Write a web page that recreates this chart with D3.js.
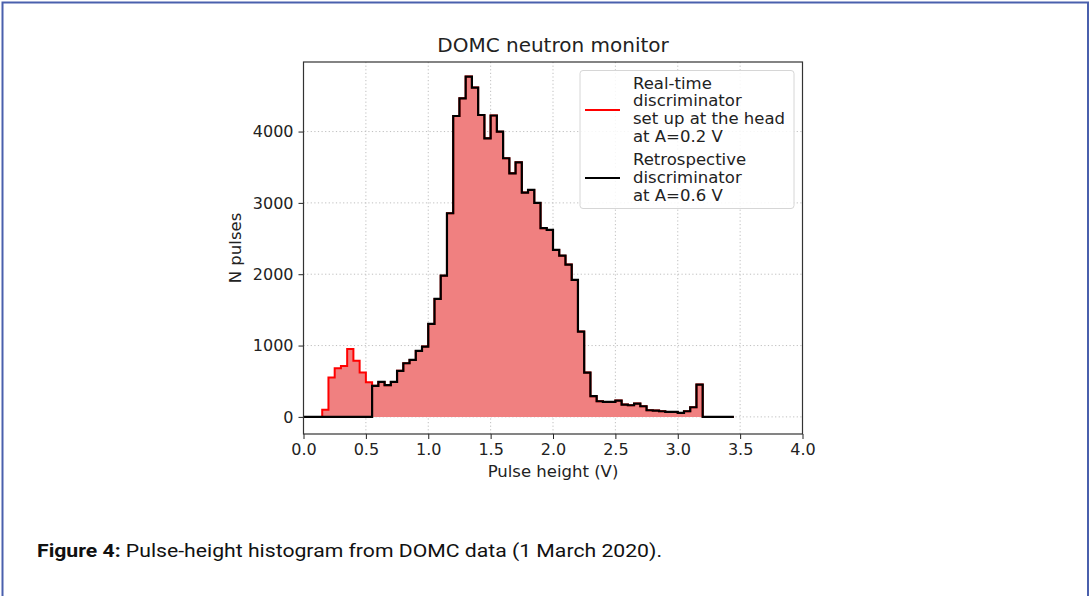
<!DOCTYPE html>
<html><head><meta charset="utf-8">
<script src="https://cdn.jsdelivr.net/npm/d3@7"></script>
<style>body{margin:0;background:#fff}svg{display:block}</style>
</head><body>
<svg id="c" width="1090" height="596"></svg>
<script>
// ---- data ----
const binWidth = 0.05; // V, bins start at 0.0
const realtimeCounts = [0,0,0,100,551,682,715,950,786,621,486,
  435,490,444,490,645,752,799,925,986,1303,1653,1980,2855,4218,4466,4770,4617,4232,3905,
  4225,3998,3626,3415,3569,3144,3181,3000,2645,2621,2341,2260,2135,1920,1196,621,290,219,
  210,210,229,172,163,186,149,93,88,79,70,70,56,79,135,453,0,0,0,0,0];
const retroCounts = [0,0,0,0,0,0,0,0,0,0,0,
  435,490,444,490,645,752,799,925,986,1303,1653,1980,2855,4218,4466,4770,4617,4232,3905,
  4225,3998,3626,3415,3569,3144,3181,3000,2645,2621,2341,2260,2135,1920,1196,621,290,219,
  210,210,229,172,163,186,149,93,88,79,70,70,56,79,135,453,0,0,0,0,0];
const xTicks = [0,0.5,1,1.5,2,2.5,3,3.5,4];
const yTicks = [0,1000,2000,3000,4000];
const legendItems = [
  {color:"#ff0000", lines:["Real-time","discriminator","set up at the head","at A=0.2 V"]},
  {color:"#000000", lines:["Retrospective","discriminator","at A=0.6 V"]}
];
const titleText = "DOMC neutron monitor";
const xLabel = "Pulse height (V)";
const yLabel = "N pulses";

// ---- layout ----
const svg = d3.select("#c");
const L = 303.5, R = 802.5, T = 62, B = 434;
const x = d3.scaleLinear().domain([0,4]).range([L,R]);
const y = d3.scaleLinear().domain([-240,4975]).range([B,T]);
const font = "DejaVu Sans, sans-serif";

// outer frame
svg.append("rect").attr("x",2.5).attr("y",2.5).attr("width",1085.5).attr("height",700)
  .attr("fill","none").attr("stroke","#4a60ad").attr("stroke-width",2);

// grid
const grid = svg.append("g").attr("stroke","#b8b8b8").attr("stroke-width",0.9).attr("stroke-dasharray","1.2,2.4");
grid.selectAll(".gx").data(xTicks).join("line")
  .attr("x1",d=>x(d)).attr("x2",d=>x(d)).attr("y1",T).attr("y2",B);
grid.selectAll(".gy").data(yTicks).join("line")
  .attr("y1",d=>y(d)).attr("y2",d=>y(d)).attr("x1",L).attr("x2",R);

function stepPoints(counts){
  const pts = counts.map((c,i)=>[i*binWidth, c]);
  pts.push([counts.length*binWidth, counts[counts.length-1]]);
  return pts;
}
svg.append("clipPath").attr("id","pc").append("rect")
  .attr("x",L).attr("y",T).attr("width",R-L).attr("height",B-T);
const plot = svg.append("g").attr("clip-path","url(#pc)");

const area = d3.area().curve(d3.curveStepAfter).x(d=>x(d[0])).y0(y(0)).y1(d=>y(d[1]));
const line = d3.line().curve(d3.curveStepAfter).x(d=>x(d[0])).y(d=>y(d[1]));

plot.append("path").attr("d",area(stepPoints(realtimeCounts))).attr("fill","#f08080");
plot.append("path").attr("d",line(stepPoints(realtimeCounts))).attr("fill","none")
  .attr("stroke","#ff0000").attr("stroke-width",2);
plot.append("path").attr("d",line(stepPoints(retroCounts))).attr("fill","none")
  .attr("stroke","#000").attr("stroke-width",2.2).attr("stroke-linejoin","miter");

// axes
const xAxis = d3.axisBottom(x).tickValues(xTicks).tickFormat(d3.format(".1f")).tickSizeOuter(0).tickSize(5).tickPadding(5);
const yAxis = d3.axisLeft(y).tickValues(yTicks).tickFormat(d=>d).tickSizeOuter(0).tickSize(5).tickPadding(5);
const gx = svg.append("g").attr("transform",`translate(0,${B})`).call(xAxis);
const gy = svg.append("g").attr("transform",`translate(${L},0)`).call(yAxis);
[gx,gy].forEach(g=>{
  g.select(".domain").remove();
  g.selectAll("text").attr("font-family",font).attr("font-size",16).attr("fill","#222");
  g.selectAll("line").attr("stroke","#222").attr("stroke-width",1);
});
// spines
svg.append("rect").attr("x",L).attr("y",T).attr("width",R-L).attr("height",B-T)
  .attr("fill","none").attr("stroke","#333").attr("stroke-width",1.2);

// title & labels
svg.append("text").attr("x",(L+R)/2).attr("y",52).attr("text-anchor","middle")
  .attr("font-family",font).attr("font-size",20).attr("fill","#222").text(titleText);
svg.append("text").attr("x",(L+R)/2).attr("y",477).attr("text-anchor","middle")
  .attr("font-family",font).attr("font-size",16.5).attr("fill","#222").text(xLabel);
svg.append("text").attr("transform",`translate(241,${(T+B)/2}) rotate(-90)`).attr("text-anchor","middle")
  .attr("font-family",font).attr("font-size",16.5).attr("fill","#222").text(yLabel);

// legend
const lg = svg.append("g");
lg.append("rect").attr("x",580).attr("y",70.5).attr("width",214).attr("height",138).attr("rx",3)
  .attr("fill","#fff").attr("fill-opacity",0.85).attr("stroke","#d6d6d6").attr("stroke-width",1);
const lineH = 17.7;
let yy = 88.5;
legendItems.forEach(item=>{
  const n = item.lines.length;
  const midY = yy + (n-1)*lineH/2 - 5;
  lg.append("line").attr("x1",585).attr("x2",620).attr("y1",midY).attr("y2",midY)
    .attr("stroke",item.color).attr("stroke-width",2);
  item.lines.forEach((t,i)=>{
    lg.append("text").attr("x",633).attr("y",yy+i*lineH).attr("font-family",font)
      .attr("font-size",16.5).attr("fill","#222").text(t);
  });
  yy += n*lineH + 6;
});

// caption
const cap = svg.append("text").attr("x",37).attr("y",557).attr("font-family","Roboto, sans-serif")
  .attr("font-size",19).attr("fill","#111")
  .attr("textLength",625).attr("lengthAdjust","spacingAndGlyphs");
cap.append("tspan").attr("font-weight","bold").text("Figure 4:");
cap.append("tspan").text(" Pulse-height histogram from DOMC data (1 March 2020).");
</script>
</body></html>
